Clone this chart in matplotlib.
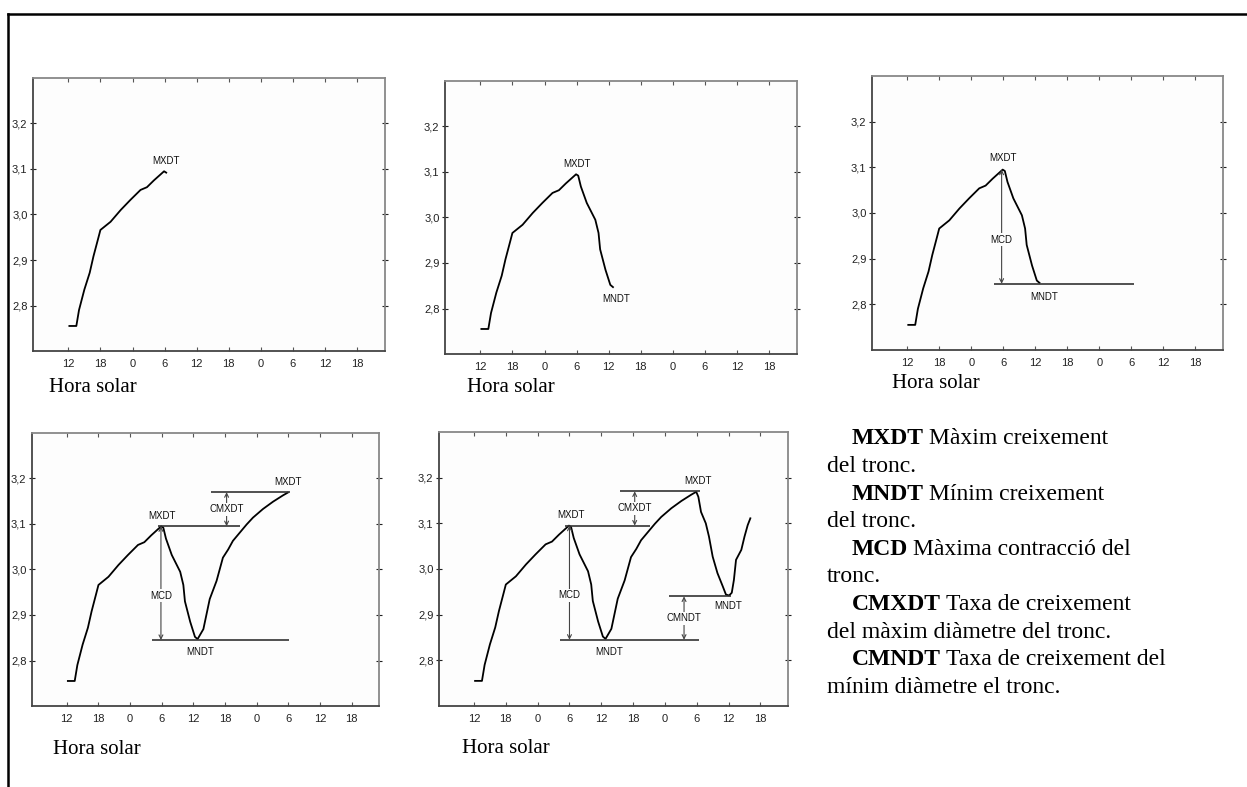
import matplotlib
matplotlib.use("Agg")
import matplotlib.pyplot as plt
from matplotlib.lines import Line2D

# Trunk diameter (mm) against solar hour (continuous hours, 12 = first noon)
hours = [12.2, 13.5, 14.0, 15.0, 16.0, 16.7, 17.6, 18.0, 19.9, 21.8, 23.6,
         25.5, 26.7, 28.0, 29.9, 30.3, 30.8, 31.9, 33.5, 34.1, 34.4, 35.4,
         36.3, 36.8, 37.9, 39.1, 40.4, 41.6, 42.6, 43.5, 44.8, 46.1, 47.3,
         49.2, 51.1, 53.0, 53.9, 54.3, 54.8, 55.7, 56.3, 57.0, 57.9, 58.9,
         59.5, 60.1, 60.6, 61.0, 61.4, 62.4, 63.0, 63.6, 64.1]
diameter = [2.755, 2.755, 2.790, 2.835, 2.872, 2.908, 2.948, 2.966, 2.984,
            3.010, 3.032, 3.054, 3.060, 3.075, 3.095, 3.092, 3.068, 3.032,
            2.995, 2.966, 2.930, 2.885, 2.852, 2.847, 2.869, 2.935, 2.975,
            3.026, 3.044, 3.063, 3.081, 3.099, 3.114, 3.133, 3.149, 3.163,
            3.169, 3.158, 3.125, 3.100, 3.071, 3.027, 2.991, 2.962, 2.944,
            2.942, 2.948, 2.976, 3.020, 3.042, 3.071, 3.096, 3.111]

# last hour of the curve drawn in each panel
panel_end = [30.3, 36.8, 36.8, 53.9, 64.1]

x_ticks = [12, 18, 24, 30, 36, 42, 48, 54, 60, 66]
y_ticks = [2.8, 2.9, 3.0, 3.1, 3.2]

# reference levels
mxdt1, mxdt2 = 3.095, 3.17
mndt1, mndt2 = 2.845, 2.94

legend_terms = ["MXDT", "MNDT", "MCD", "CMXDT", "CMNDT"]
legend_first = ["Màxim creixement", "Mínim creixement", "Màxima contracció del",
                "Taxa de creixement", "Taxa de creixement del"]
legend_second = ["del tronc.", "del tronc.", "tronc.",
                 "del màxim diàmetre del tronc.", "mínim diàmetre el tronc."]

W, H = 1247, 787
fig = plt.figure(figsize=(W / 100, H / 100), dpi=100)
fig.patch.set_facecolor("white")

SANS = "Liberation Sans"
SERIF = "Liberation Serif"
GREY = "#333333"


def px_axes(l, t, r, b):
    ax = fig.add_axes([l / W, 1 - b / H, (r - l) / W, (b - t) / H])
    ax.set_facecolor("#fdfdfd")
    ax.set_xlim(5.4, 71.2)
    ax.set_ylim(2.70, 3.30)
    ax.set_xticks(x_ticks)
    ax.set_xticklabels([str(h % 24) for h in x_ticks], fontsize=8, family=SANS)
    ax.set_yticks(y_ticks)
    ax.set_yticklabels([f"{v:.1f}".replace(".", ",") for v in y_ticks],
                       fontsize=8, family=SANS)
    ax.tick_params(axis="x", direction="in", length=3, top=True, pad=6,
                   color="#555555", labelcolor="#222222")
    ax.tick_params(axis="y", direction="inout", length=4, right=True, pad=2,
                   color="#222222", labelcolor="#222222")
    for side in ["left", "bottom"]:
        ax.spines[side].set_color("#444444")
        ax.spines[side].set_linewidth(1.3)
    for side in ["top", "right"]:
        ax.spines[side].set_color("#888888")
        ax.spines[side].set_linewidth(1.3)
    return ax


def label(ax, x, y, s):
    ax.text(x, y, s, fontsize=7, family=SANS, ha="center", va="center",
            color="#111111")


def hline(ax, y, x0, x1):
    ax.plot([x0, x1], [y, y], color=GREY, lw=1.2, solid_capstyle="butt")


def span(ax, x, y0, y1, text, ty=None):
    ax.annotate("", xy=(x, y1), xytext=(x, y0),
                arrowprops=dict(arrowstyle="<->", color="#444444", lw=0.8,
                                shrinkA=0, shrinkB=0, mutation_scale=7))
    if ty is None:
        ty = (y0 + y1) / 2
    ax.text(x, ty, text, fontsize=7, family=SANS, ha="center",
            va="center", color="#111111",
            bbox=dict(boxstyle="square,pad=0.15", fc="#fdfdfd", ec="none"))


panels = [(33, 78, 385, 351), (445, 81, 797, 354), (872, 76, 1223, 350),
          (32, 433, 379, 706), (439, 432, 788, 706)]
hora_pos = [(49, 392), (467, 392), (892, 388), (53, 754), (462, 753)]

axes = []
for i, rect in enumerate(panels):
    ax = px_axes(*rect)
    xs = [h for h in hours if h <= panel_end[i]]
    ys = diameter[:len(xs)]
    ax.plot(xs, ys, color="black", lw=1.3)
    axes.append(ax)
    fig.text(hora_pos[i][0] / W, 1 - hora_pos[i][1] / H, "Hora solar",
             family=SERIF, fontsize=15, ha="left", va="baseline")

# panel 1
label(axes[0], 30.3, 3.118, "MXDT")

# panel 2
label(axes[1], 30.1, 3.118, "MXDT")
label(axes[1], 37.3, 2.820, "MNDT")

# panel 3
ax = axes[2]
hline(ax, mndt1, 28.2, 54.5)
span(ax, 29.7, mndt1, mxdt1, "MCD", 2.941)
label(ax, 30.0, 3.120, "MXDT")
label(ax, 37.6, 2.817, "MNDT")

# panel 4
ax = axes[3]
hline(ax, mxdt1, 29.3, 44.9)
hline(ax, mxdt2, 39.3, 54.4)
hline(ax, mndt1, 28.1, 54.1)
span(ax, 29.85, mndt1, mxdt1, "MCD", 2.942)
span(ax, 42.3, mxdt1, mxdt2, "CMXDT")
label(ax, 30.0, 3.118, "MXDT")
label(ax, 54.0, 3.193, "MXDT")
label(ax, 37.2, 2.819, "MNDT")

# panel 5
ax = axes[4]
hline(ax, mxdt1, 29.2, 45.2)
hline(ax, mxdt2, 39.5, 54.6)
hline(ax, mndt1, 28.3, 54.5)
hline(ax, mndt2, 48.7, 60.5)
span(ax, 30.0, mndt1, mxdt1, "MCD", 2.942)
span(ax, 42.3, mxdt1, mxdt2, "CMXDT")
span(ax, 51.6, mndt1, mndt2, "CMNDT")
label(ax, 30.2, 3.118, "MXDT")
label(ax, 54.2, 3.193, "MXDT")
label(ax, 37.4, 2.819, "MNDT")
label(ax, 60.0, 2.920, "MNDT")

# legend text block
renderer = fig.canvas.get_renderer()
base, step = 444.3, 27.6
for k, term in enumerate(legend_terms):
    y1 = 1 - (base + 2 * k * step) / H
    y2 = 1 - (base + (2 * k + 1) * step) / H
    t = fig.text(852 / W, y1, term, family=SERIF, fontsize=17,
                 fontweight="bold", ha="left", va="baseline")
    bb = t.get_window_extent(renderer)
    fig.text((bb.x1 + 5) / W, y1, legend_first[k], family=SERIF, fontsize=17,
             ha="left", va="baseline")
    fig.text(827 / W, y2, legend_second[k], family=SERIF, fontsize=17,
             ha="left", va="baseline")

# outer frame (top and left edges)
fig.add_artist(Line2D([8 / W, 1], [1 - 14 / H, 1 - 14 / H], color="black",
                      lw=1.8, transform=fig.transFigure))
fig.add_artist(Line2D([8 / W, 8 / W], [1 - 14 / H, 0], color="black",
                      lw=1.8, transform=fig.transFigure))

fig.savefig("out.png", dpi=100)
